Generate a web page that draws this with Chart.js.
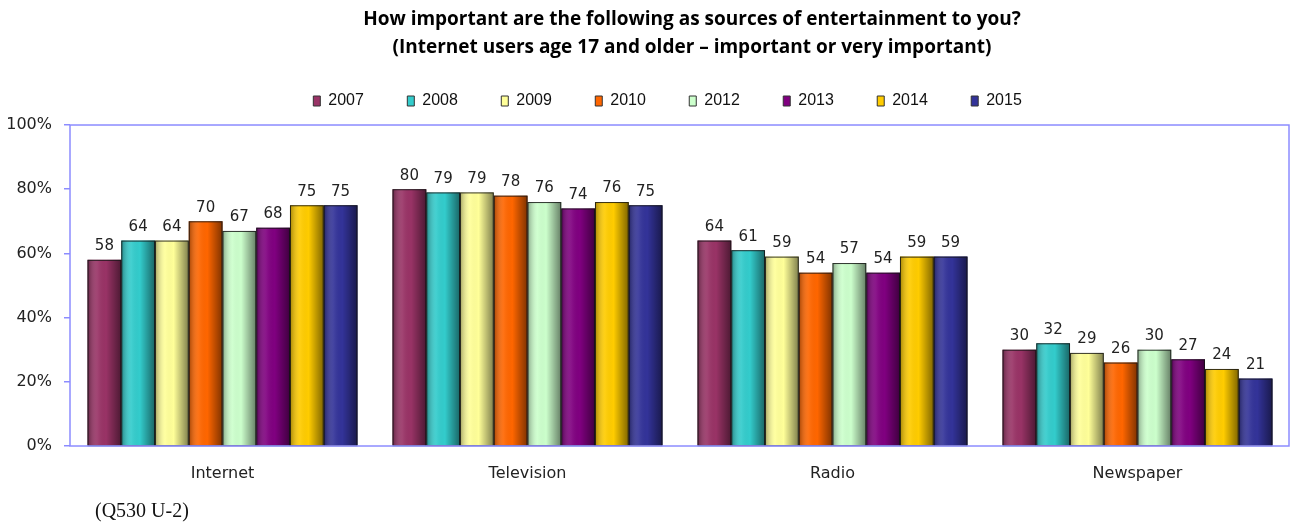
<!DOCTYPE html>
<html lang="en">
<head>
<meta charset="UTF-8">
<title>Sources of entertainment</title>
<script src="https://cdn.jsdelivr.net/npm/chart.js"></script>
<style>
    body { margin: 0; background: #fff; }
    .wrap { position: relative; width: 1291px; height: 529px; }
    #note { position: absolute; left: 95px; top: 499px; font-family: 'Liberation Serif', serif; font-size: 20px; color: #111; }
</style>
</head>
<body>
<div class="wrap">
    <canvas id="chart" width="1291" height="529"></canvas>
    <div id="note">(Q530 U-2)</div>
</div>
<script>
    // categories, years and values (percent)
    const categories = ['Internet', 'Television', 'Radio', 'Newspaper'];
    const years = ['2007', '2008', '2009', '2010', '2012', '2013', '2014', '2015'];
    const colors = ['#993366', '#33cccc', '#ffff99', '#ff6600', '#ccffcc', '#800080', '#ffcc00', '#333399'];
    const v2007 = [58, 80, 64, 30];
    const v2008 = [64, 79, 61, 32];
    const v2009 = [64, 79, 59, 29];
    const v2010 = [70, 78, 54, 26];
    const v2012 = [67, 76, 57, 30];
    const v2013 = [68, 74, 54, 27];
    const v2014 = [75, 76, 59, 24];
    const v2015 = [75, 75, 59, 21];
    const series = [v2007, v2008, v2009, v2010, v2012, v2013, v2014, v2015];

    const frameColor = '#8c8cff';

    // cylinder-ish shading + outline + value labels on top of every bar
    const barDecor = {
        id: 'barDecor',
        afterDatasetsDraw(chart) {
            const ctx = chart.ctx;
            chart.data.datasets.forEach((ds, di) => {
                const meta = chart.getDatasetMeta(di);
                if (meta.hidden) return;
                meta.data.forEach((bar, i) => {
                    const left = bar.x - bar.width / 2;
                    const top = bar.y;
                    const h = bar.base - bar.y;
                    const g = ctx.createLinearGradient(left, 0, left + bar.width, 0);
                    g.addColorStop(0, 'rgba(0,0,0,0.35)');
                    g.addColorStop(0.3, 'rgba(255,255,255,0.08)');
                    g.addColorStop(0.55, 'rgba(0,0,0,0)');
                    g.addColorStop(1, 'rgba(0,0,0,0.5)');
                    ctx.save();
                    ctx.fillStyle = g;
                    ctx.fillRect(left, top, bar.width, h);
                    ctx.strokeStyle = 'rgba(20,20,20,0.85)';
                    ctx.lineWidth = 1;
                    ctx.strokeRect(left + 0.5, top + 0.5, bar.width - 1, h);
                    ctx.fillStyle = '#222';
                    ctx.font = '15px "DejaVu Sans", sans-serif';
                    ctx.textAlign = 'center';
                    ctx.textBaseline = 'bottom';
                    ctx.fillText(ds.data[i], bar.x, top - 6);
                    ctx.restore();
                });
            });
        }
    };

    // light blue frame around the plot area
    const plotFrame = {
        id: 'plotFrame',
        afterDraw(chart) {
            const a = chart.chartArea;
            const ctx = chart.ctx;
            ctx.save();
            ctx.strokeStyle = frameColor;
            ctx.lineWidth = 1.5;
            ctx.strokeRect(a.left, a.top, a.right - a.left - 1, a.bottom - a.top);
            ctx.restore();
        }
    };

    new Chart(document.getElementById('chart'), {
        type: 'bar',
        data: {
            labels: categories,
            datasets: years.map((y, i) => ({
                label: y,
                data: series[i],
                backgroundColor: colors[i],
                borderColor: '#222',
                borderWidth: 0,
                categoryPercentage: 0.885,
                barPercentage: 1.0
            }))
        },
        options: {
            responsive: false,
            animation: false,
            layout: { padding: { left: 0, right: 1, top: 0, bottom: 40 } },
            scales: {
                x: {
                    grid: { display: false, drawTicks: false },
                    border: { display: false },
                    ticks: { color: '#222', padding: 18, font: { family: 'DejaVu Sans', size: 16 } },
                    afterFit(s) { s.height = 43; }
                },
                y: {
                    min: 0,
                    max: 100,
                    grid: { drawOnChartArea: false, color: frameColor, tickLength: 6, lineWidth: 1.5 },
                    border: { display: false },
                    ticks: {
                        stepSize: 20,
                        color: '#222',
                        padding: 12,
                        font: { family: 'DejaVu Sans', size: 16 },
                        callback: v => v + '%'
                    },
                    afterFit(s) { s.width = 70; }
                }
            },
            plugins: {
                title: {
                    display: true,
                    fullSize: false,
                    // leading space nudges the block right, as in the original layout
                    text: ['\u2003 How important are the following as sources of entertainment to you?',
                           '\u2003 (Internet users age 17 and older \u2013 important or very important)'],
                    color: '#000',
                    font: { family: 'Open Sans', size: 19, weight: 'bold', lineHeight: 1.474 },
                    padding: { top: 6, bottom: 12.5 }
                },
                // thin spacer between legend and plot
                subtitle: {
                    display: true,
                    text: '',
                    weight: 100,
                    font: { size: 1, lineHeight: 1 },
                    padding: { top: 0, bottom: 5 }
                },
                legend: {
                    position: 'top',
                    fullSize: false,
                    labels: {
                        boxWidth: 7,
                        boxHeight: 10,
                        padding: 18.5,
                        color: '#111',
                        font: { family: 'Liberation Sans', size: 16 },
                        generateLabels(chart) {
                            const items = Chart.defaults.plugins.legend.labels.generateLabels(chart);
                            items.forEach(it => {
                                it.text = it.text + '\u2003  ';
                                it.strokeStyle = '#333';
                                it.lineWidth = 1;
                            });
                            return items;
                        }
                    }
                },
                tooltip: { enabled: false }
            }
        },
        plugins: [barDecor, plotFrame]
    });
</script>
</body>
</html>
